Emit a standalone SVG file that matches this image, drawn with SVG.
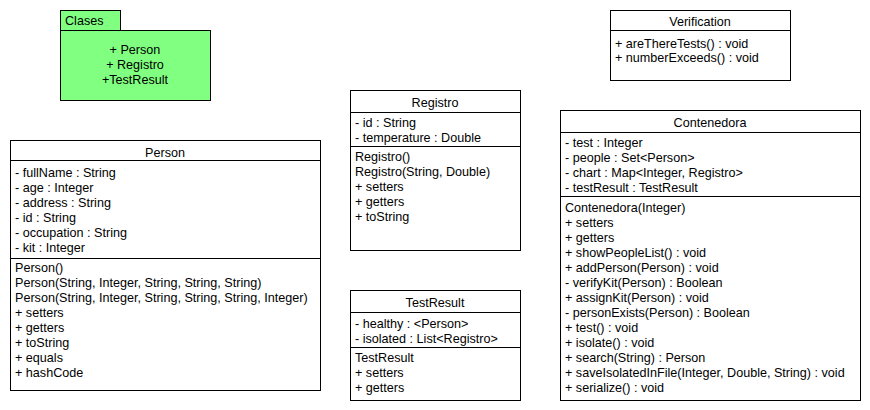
<svg xmlns="http://www.w3.org/2000/svg" width="870" height="410" viewBox="0 0 870 410">
<style>
text{font-family:"Liberation Sans",Arial,sans-serif;font-size:12.6px;fill:#000}
.box{fill:#fff;stroke:#000;stroke-width:1}
.ln{stroke:#000;stroke-width:1}
.c{text-anchor:middle}
.pk{fill:#80ff80;stroke:#000;stroke-width:1}
</style>
<rect width="870" height="410" fill="#fff"/>
<g id="Clases">
<rect class="pk" x="60.5" y="10.5" width="60" height="20"/>
<rect class="pk" x="60.5" y="30.5" width="150" height="70"/>
<text x="65" y="25">Clases</text>
<text class="c" x="135" y="54">+ Person</text>
<text class="c" x="135" y="69">+ Registro</text>
<text class="c" x="135" y="84">+TestResult</text>
</g>
<g id="Person">
<rect class="box" x="10.5" y="140.5" width="310" height="250"/>
<line class="ln" x1="10" y1="160.5" x2="321" y2="160.5"/>
<line class="ln" x1="10" y1="258.5" x2="321" y2="258.5"/>
<text class="c" x="165" y="157">Person</text>
<text x="15" y="177">- fullName : String</text>
<text x="15" y="192">- age : Integer</text>
<text x="15" y="207">- address : String</text>
<text x="15" y="222">- id : String</text>
<text x="15" y="237">- occupation : String</text>
<text x="15" y="252">- kit : Integer</text>
<text x="15" y="272">Person()</text>
<text x="15" y="287">Person(String, Integer, String, String, String)</text>
<text x="15" y="302">Person(String, Integer, String, String, String, Integer)</text>
<text x="15" y="317">+ setters</text>
<text x="15" y="332">+ getters</text>
<text x="15" y="347">+ toString</text>
<text x="15" y="362">+ equals</text>
<text x="15" y="377">+ hashCode</text>
</g>
<g id="Registro">
<rect class="box" x="350.5" y="90.5" width="170" height="160"/>
<line class="ln" x1="350" y1="112.5" x2="521" y2="112.5"/>
<line class="ln" x1="350" y1="146.5" x2="521" y2="146.5"/>
<text class="c" x="435" y="107">Registro</text>
<text x="355" y="127">- id : String</text>
<text x="355" y="142">- temperature : Double</text>
<text x="355" y="161">Registro()</text>
<text x="355" y="176">Registro(String, Double)</text>
<text x="355" y="191">+ setters</text>
<text x="355" y="206">+ getters</text>
<text x="355" y="221">+ toString</text>
</g>
<g id="TestResult">
<rect class="box" x="350.5" y="290.5" width="170" height="110"/>
<line class="ln" x1="350" y1="312.5" x2="521" y2="312.5"/>
<line class="ln" x1="350" y1="347.5" x2="521" y2="347.5"/>
<text class="c" x="435" y="307">TestResult</text>
<text x="355" y="328">- healthy : &lt;Person&gt;</text>
<text x="355" y="343">- isolated : List&lt;Registro&gt;</text>
<text x="355" y="362">TestResult</text>
<text x="355" y="377">+ setters</text>
<text x="355" y="392">+ getters</text>
</g>
<g id="Verification">
<rect class="box" x="610.5" y="10.5" width="180" height="70"/>
<line class="ln" x1="610" y1="30.5" x2="791" y2="30.5"/>
<text class="c" x="700" y="26">Verification</text>
<text x="615" y="48">+ areThereTests() : void</text>
<text x="615" y="62">+ numberExceeds() : void</text>
</g>
<g id="Contenedora">
<rect class="box" x="560.5" y="110.5" width="300" height="290"/>
<line class="ln" x1="560" y1="132.5" x2="861" y2="132.5"/>
<line class="ln" x1="560" y1="196.5" x2="861" y2="196.5"/>
<text class="c" x="710" y="127">Contenedora</text>
<text x="565" y="147">- test : Integer</text>
<text x="565" y="162">- people : Set&lt;Person&gt;</text>
<text x="565" y="177">- chart : Map&lt;Integer, Registro&gt;</text>
<text x="565" y="192">- testResult : TestResult</text>
<text x="565" y="212">Contenedora(Integer)</text>
<text x="565" y="227">+ setters</text>
<text x="565" y="242">+ getters</text>
<text x="565" y="257">+ showPeopleList() : void</text>
<text x="565" y="272">+ addPerson(Person) : void</text>
<text x="565" y="287">- verifyKit(Person) : Boolean</text>
<text x="565" y="302">+ assignKit(Person) : void</text>
<text x="565" y="317">- personExists(Person) : Boolean</text>
<text x="565" y="332">+ test() : void</text>
<text x="565" y="347">+ isolate() : void</text>
<text x="565" y="362">+ search(String) : Person</text>
<text x="565" y="377">+ saveIsolatedInFile(Integer, Double, String) : void</text>
<text x="565" y="392">+ serialize() : void</text>
</g>
<g id="connectors"></g>
</svg>
